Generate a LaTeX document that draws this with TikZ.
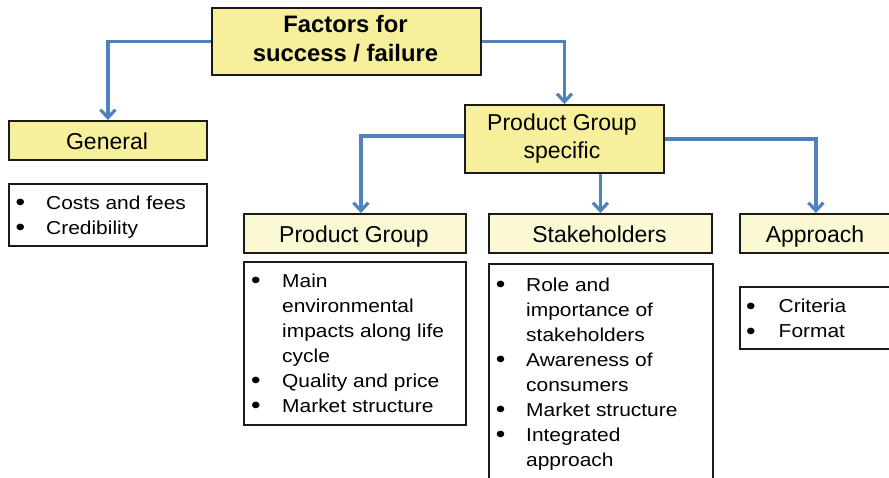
\documentclass[tikz,border=0pt]{standalone}
\usepackage{fontspec}
\setmainfont{Liberation Sans}
\newfontfamily\listfont[FakeStretch=1.12]{Liberation Sans}
\usetikzlibrary{arrows.meta}
\definecolor{topyel}{HTML}{F6F09C}
\definecolor{lowyel}{HTML}{FBF8D4}
\definecolor{conblue}{HTML}{4F81BD}
\definecolor{edgecol}{HTML}{1A1A1A}
\newcommand{\bigbul}{\raisebox{-1.6pt}{\scalebox{1.3}{\textbullet}}}
\begin{document}
\begin{tikzpicture}[x=1pt,y=-1pt,
 box/.style={draw=edgecol, line width=1.8pt, rectangle, inner sep=0pt, anchor=north west},
 hibox/.style={box, fill=topyel},
 lobox/.style={box, fill=lowyel},
 listbox/.style={box, fill=white},
 ttl/.style={font=\fontsize{23.8}{28}\selectfont\bfseries, anchor=base, inner sep=0pt},
 lbl/.style={font=\fontsize{23}{28}\selectfont, anchor=base, inner sep=0pt},
 itm/.style={font=\listfont\fontsize{18.7}{25}\selectfont, anchor=base west, inner sep=0pt},
 bul/.style={font=\listfont\fontsize{18.7}{25}\selectfont, anchor=base, inner sep=0pt},
 conn/.style={draw=conblue, line width=3.2pt, -{Straight Barb[length=8pt,width=15pt]}}
]
\useasboundingbox (0,0) rectangle (889,477);
\clip (0,0) rectangle (889,477);

% boxes
\node[hibox, minimum width=269pt, minimum height=67pt] (fac) at (211,7) {};
\node[hibox, minimum width=198pt, minimum height=39pt] (gen) at (8,120) {};
\node[listbox, minimum width=198pt, minimum height=62pt] (genl) at (8,183) {};
\node[hibox, minimum width=199pt, minimum height=68pt] (pgs) at (464,104) {};
\node[lobox, minimum width=222pt, minimum height=39pt] (pg) at (243,213) {};
\node[listbox, minimum width=222pt, minimum height=163pt] (pgl) at (243,261) {};
\node[lobox, minimum width=223pt, minimum height=39pt] (sh) at (488,213) {};
\node[listbox, minimum width=224pt, minimum height=230pt] (shl) at (488,263) {};
\node[lobox, minimum width=152pt, minimum height=39pt] (ap) at (739,213) {};
\node[listbox, minimum width=152pt, minimum height=62pt] (apl) at (739,286) {};

% labels
\node[ttl] (fac1) at (345.5,32) {Factors for};
\node[ttl] (fac2) at (345.5,61) {success / failure};
\node[lbl] (genlab) at (107,149) {General};
\node[lbl] (pgs1) at (562,130) {Product Group};
\node[lbl] (pgs2) at (562,158) {specific};
\node[lbl] (pglab) at (354,242) {Product Group};
\node[lbl] (shlab) at (599.5,242) {Stakeholders};
\node[lbl] (aplab) at (815,242) {Approach};

% General list
\node[bul] (gb1) at (20.5,209) {\bigbul};
\node[itm] (gt1) at (46,209) {Costs and fees};
\node[bul] (gb2) at (20.5,234) {\bigbul};
\node[itm] (gt2) at (46,234) {Credibility};

% Product group list
\node[bul] (pb1) at (256,287) {\bigbul};
\node[itm] (pt1) at (282,287) {Main};
\node[itm] (pt2) at (282,312) {environmental};
\node[itm] (pt3) at (282,337) {impacts along life};
\node[itm] (pt4) at (282,362) {cycle};
\node[bul] (pb2) at (256,387) {\bigbul};
\node[itm] (pt5) at (282,387) {Quality and price};
\node[bul] (pb3) at (256,412) {\bigbul};
\node[itm] (pt6) at (282,412) {Market structure};

% Stakeholders list
\node[bul] (sb1) at (500.7,291) {\bigbul};
\node[itm] (st1) at (526,291) {Role and};
\node[itm] (st2) at (526,316) {importance of};
\node[itm] (st3) at (526,341) {stakeholders};
\node[bul] (sb2) at (500.7,366) {\bigbul};
\node[itm] (st4) at (526,366) {Awareness of};
\node[itm] (st5) at (526,391) {consumers};
\node[bul] (sb3) at (500.7,416) {\bigbul};
\node[itm] (st6) at (526,416) {Market structure};
\node[bul] (sb4) at (500.7,441) {\bigbul};
\node[itm] (st7) at (526,441) {Integrated};
\node[itm] (st8) at (526,466) {approach};

% Approach list
\node[bul] (ab1) at (751,312.5) {\bigbul};
\node[itm] (at1) at (778.5,312.5) {Criteria};
\node[bul] (ab2) at (751,337.5) {\bigbul};
\node[itm] (at2) at (778.5,337.5) {Format};

% connectors
\draw[conn] (fac.west) -| (gen.north);
\draw[conn] (fac.east) -| (pgs.north);
\draw[conn] ([yshift=3pt]pgs.west) -| ([xshift=6pt]pg.north);
\draw[conn] (sh.north |- pgs.south) -- (sh.north);
\draw[conn] (pgs.east) -| (ap.north);
\end{tikzpicture}
\end{document}
